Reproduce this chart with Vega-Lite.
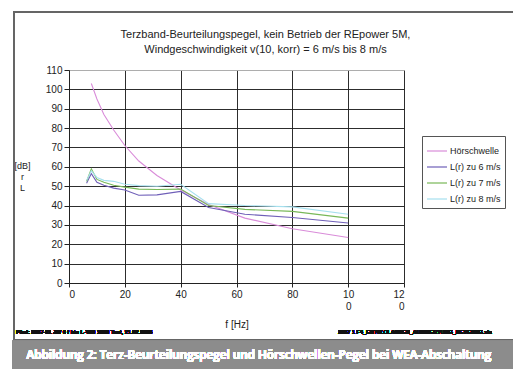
{
  "$schema": "https://vega.github.io/schema/vega-lite/v6.json",
  "width": 335,
  "height": 213,
  "autosize": {"type": "none"},
  "padding": {"left": 69, "top": 70, "right": 109, "bottom": 86},
  "background": "white",
  "title": {
    "text": ["Terzband-Beurteilungspegel, kein Betrieb der REpower 5M,", "Windgeschwindigkeit v(10, korr) = 6 m/s bis 8 m/s"],
    "font": "Liberation Sans",
    "fontSize": 11,
    "fontWeight": "normal",
    "color": "#222",
    "anchor": "middle",
    "frame": "group",
    "dx": 29,
    "dy": 54,
    "offset": 10,
    "lineHeight": 15
  },
  "config": {
    "axisX": {
      "grid": true,
      "labelLineHeight": 12,
      "labelFontSize": 10,
      "labelColor": "#222",
      "labelPadding": 2,
      "tickSize": 4,
      "tickColor": "#222",
      "domainColor": "#222",
      "gridColor": "#222",
      "gridOpacity": 0.95,
      "titleFontSize": 10,
      "titleFontWeight": "normal",
      "titleColor": "#222",
      "titlePadding": 8
    },
    "axisY": {
      "grid": true,
      "labelFontSize": 10,
      "labelColor": "#222",
      "labelPadding": 2,
      "tickSize": 5,
      "tickColor": "#222",
      "domainColor": "#222",
      "gridColor": {"condition": {"test": "datum.value == 110", "value": "#aaaaaa"}, "value": "#222222"},
      "gridOpacity": 0.95,
      "titleAngle": 0,
      "titleFontSize": 9,
      "titleFontWeight": "normal",
      "titleColor": "#222",
      "titleAlign": "center",
      "titleBaseline": "top",
      "titleX": -47,
      "titleY": 91,
      "titleLineHeight": 11
    }
  },
  "data": {
    "values": [
      {"serie": "Hörschwelle", "f": 8, "L": 103},
      {"serie": "Hörschwelle", "f": 10, "L": 95},
      {"serie": "Hörschwelle", "f": 12.5, "L": 87},
      {"serie": "Hörschwelle", "f": 16, "L": 79},
      {"serie": "Hörschwelle", "f": 20, "L": 71},
      {"serie": "Hörschwelle", "f": 25, "L": 63},
      {"serie": "Hörschwelle", "f": 31.5, "L": 55.5},
      {"serie": "Hörschwelle", "f": 40, "L": 48},
      {"serie": "Hörschwelle", "f": 50, "L": 40.5},
      {"serie": "Hörschwelle", "f": 63, "L": 33.5},
      {"serie": "Hörschwelle", "f": 80, "L": 28},
      {"serie": "Hörschwelle", "f": 100, "L": 23.5},
      {"serie": "L(r) zu 6 m/s", "f": 6.3, "L": 51.5},
      {"serie": "L(r) zu 6 m/s", "f": 8, "L": 56.5},
      {"serie": "L(r) zu 6 m/s", "f": 10, "L": 52},
      {"serie": "L(r) zu 6 m/s", "f": 12.5, "L": 50.5},
      {"serie": "L(r) zu 6 m/s", "f": 16, "L": 49},
      {"serie": "L(r) zu 6 m/s", "f": 20, "L": 48},
      {"serie": "L(r) zu 6 m/s", "f": 25, "L": 45.3},
      {"serie": "L(r) zu 6 m/s", "f": 31.5, "L": 45.5},
      {"serie": "L(r) zu 6 m/s", "f": 40, "L": 47.3},
      {"serie": "L(r) zu 6 m/s", "f": 50, "L": 39},
      {"serie": "L(r) zu 6 m/s", "f": 63, "L": 35.5},
      {"serie": "L(r) zu 6 m/s", "f": 80, "L": 33.8},
      {"serie": "L(r) zu 6 m/s", "f": 100, "L": 31},
      {"serie": "L(r) zu 7 m/s", "f": 6.3, "L": 52.5},
      {"serie": "L(r) zu 7 m/s", "f": 8, "L": 59},
      {"serie": "L(r) zu 7 m/s", "f": 10, "L": 53.5},
      {"serie": "L(r) zu 7 m/s", "f": 12.5, "L": 52},
      {"serie": "L(r) zu 7 m/s", "f": 16, "L": 50.5},
      {"serie": "L(r) zu 7 m/s", "f": 20, "L": 49.5},
      {"serie": "L(r) zu 7 m/s", "f": 25, "L": 48.5},
      {"serie": "L(r) zu 7 m/s", "f": 31.5, "L": 48.3},
      {"serie": "L(r) zu 7 m/s", "f": 40, "L": 48.5},
      {"serie": "L(r) zu 7 m/s", "f": 50, "L": 40},
      {"serie": "L(r) zu 7 m/s", "f": 63, "L": 38},
      {"serie": "L(r) zu 7 m/s", "f": 80, "L": 37},
      {"serie": "L(r) zu 7 m/s", "f": 100, "L": 33.5},
      {"serie": "L(r) zu 8 m/s", "f": 6.3, "L": 53},
      {"serie": "L(r) zu 8 m/s", "f": 8, "L": 58},
      {"serie": "L(r) zu 8 m/s", "f": 10, "L": 54.5},
      {"serie": "L(r) zu 8 m/s", "f": 12.5, "L": 53},
      {"serie": "L(r) zu 8 m/s", "f": 16, "L": 52.5},
      {"serie": "L(r) zu 8 m/s", "f": 20, "L": 51},
      {"serie": "L(r) zu 8 m/s", "f": 25, "L": 50.3},
      {"serie": "L(r) zu 8 m/s", "f": 31.5, "L": 50},
      {"serie": "L(r) zu 8 m/s", "f": 40, "L": 51},
      {"serie": "L(r) zu 8 m/s", "f": 50, "L": 41},
      {"serie": "L(r) zu 8 m/s", "f": 63, "L": 40},
      {"serie": "L(r) zu 8 m/s", "f": 80, "L": 39.3},
      {"serie": "L(r) zu 8 m/s", "f": 100, "L": 35.5}
    ]
  },
  "layer": [
    {
      "mark": {"type": "line", "strokeWidth": 1.1, "clip": false},
      "encoding": {
        "x": {
          "field": "f", "type": "quantitative",
          "scale": {"domain": [0, 120], "nice": false, "zero": true},
          "axis": {"title": "f [Hz]", "values": [0, 20, 40, 60, 80, 100, 120], "labelExpr": "datum.value >= 100 ? [substring(datum.label, 0, 2), substring(datum.label, 2)] : datum.label"}
        },
        "y": {
          "field": "L", "type": "quantitative",
          "scale": {"domain": [0, 110], "nice": false},
          "axis": {"title": ["[dB]", "r", "L"], "values": [0, 10, 20, 30, 40, 50, 60, 70, 80, 90, 100, 110]}
        },
        "color": {
          "field": "serie", "type": "nominal",
          "scale": {
            "domain": ["Hörschwelle", "L(r) zu 6 m/s", "L(r) zu 7 m/s", "L(r) zu 8 m/s"],
            "range": ["#d98cd9", "#6f5fb8", "#78b858", "#a6e0ee"]
          },
          "legend": {
            "title": null,
            "orient": "none",
            "legendX": 353,
            "legendY": 66,
            "padding": 4,
            "strokeColor": "#555",
            "fillColor": "white",
            "symbolType": "stroke",
            "symbolSize": 400,
            "symbolStrokeWidth": 1.2,
            "labelFontSize": 9,
            "labelColor": "#222",
            "labelOffset": 2,
            "rowPadding": 0
          }
        }
      }
    },
    {
      "mark": {"type": "rect", "fill": "transparent", "stroke": "#666", "strokeWidth": 1.5, "clip": false},
      "encoding": {
        "x": {"datum": -19.7, "type": "quantitative", "axis": {"title": "f [Hz]", "values": [0, 20, 40, 60, 80, 100, 120], "labelExpr": "datum.value >= 100 ? [substring(datum.label, 0, 2), substring(datum.label, 2)] : datum.label"}},
        "x2": {"datum": 163},
        "y": {"datum": 140, "type": "quantitative", "axis": {"title": ["[dB]", "r", "L"], "values": [0, 10, 20, 30, 40, 50, 60, 70, 80, 90, 100, 110]}},
        "y2": {"datum": -29.5}
      }
    },
    {
      "mark": {"type": "rect", "fill": "#8c8c8c", "clip": false},
      "encoding": {
        "x": {"datum": -20.2, "type": "quantitative", "axis": {"title": "f [Hz]", "values": [0, 20, 40, 60, 80, 100, 120], "labelExpr": "datum.value >= 100 ? [substring(datum.label, 0, 2), substring(datum.label, 2)] : datum.label"}},
        "x2": {"datum": 160},
        "y": {"datum": -29.8, "type": "quantitative", "axis": {"title": ["[dB]", "r", "L"], "values": [0, 10, 20, 30, 40, 50, 60, 70, 80, 90, 100, 110]}},
        "y2": {"datum": -46}
      }
    },
    {
      "mark": {"type": "text", "color": "white", "font": "Open Sans", "fontWeight": 600, "fontSize": 11.7, "align": "center", "baseline": "middle", "clip": false},
      "encoding": {
        "x": {"datum": 68, "type": "quantitative", "axis": {"title": "f [Hz]", "values": [0, 20, 40, 60, 80, 100, 120], "labelExpr": "datum.value >= 100 ? [substring(datum.label, 0, 2), substring(datum.label, 2)] : datum.label"}},
        "y": {"datum": -37.3, "type": "quantitative", "axis": {"title": ["[dB]", "r", "L"], "values": [0, 10, 20, 30, 40, 50, 60, 70, 80, 90, 100, 110]}},
        "text": {"value": "Abbildung 2: Terz-Beurteilungspegel und Hörschwellen-Pegel bei WEA-Abschaltung"}
      }
    },
    {
      "mark": {"type": "text", "color": "#111", "font": "Liberation Sans", "fontWeight": "bold", "fontSize": 5.5, "align": "left", "baseline": "middle", "clip": false},
      "encoding": {
        "x": {"datum": -19, "type": "quantitative", "axis": {"title": "f [Hz]", "values": [0, 20, 40, 60, 80, 100, 120], "labelExpr": "datum.value >= 100 ? [substring(datum.label, 0, 2), substring(datum.label, 2)] : datum.label"}},
        "y": {"datum": -25.3, "type": "quantitative", "axis": {"title": ["[dB]", "r", "L"], "values": [0, 10, 20, 30, 40, 50, 60, 70, 80, 90, 100, 110]}},
        "text": {"value": "Pfad: 2007-01 JW 6 f bin L-V80 1000 Test, 21.02.2008"}
      }
    },
    {
      "mark": {"type": "text", "color": "#111", "font": "Liberation Sans", "fontWeight": "bold", "fontSize": 5.5, "align": "right", "baseline": "middle", "clip": false},
      "encoding": {
        "x": {"datum": 151.5, "type": "quantitative", "axis": {"title": "f [Hz]", "values": [0, 20, 40, 60, 80, 100, 120], "labelExpr": "datum.value >= 100 ? [substring(datum.label, 0, 2), substring(datum.label, 2)] : datum.label"}},
        "y": {"datum": -25.3, "type": "quantitative", "axis": {"title": ["[dB]", "r", "L"], "values": [0, 10, 20, 30, 40, 50, 60, 70, 80, 90, 100, 110]}},
        "text": {"value": "2007 1 F4_ENTW.CLASSEN_AUSWERTUNG_REVERSG.xls"}
      }
    }
  ]
}
